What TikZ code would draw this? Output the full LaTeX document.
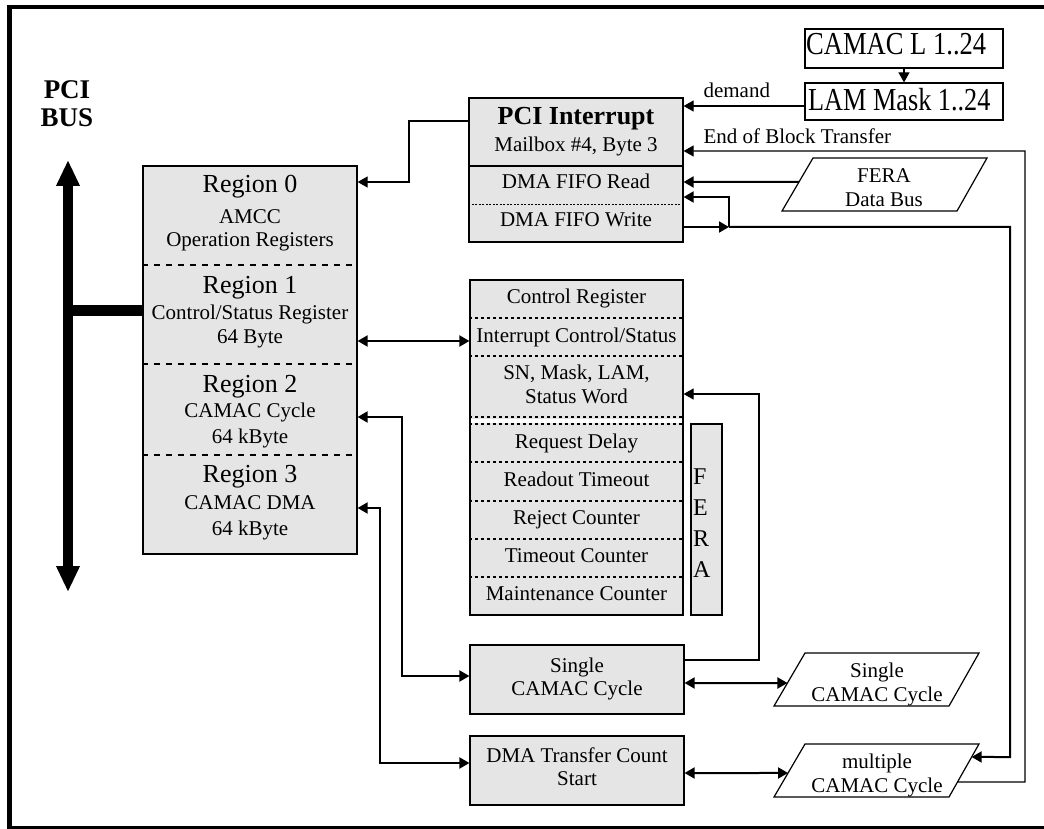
\documentclass[tikz,border=0pt]{standalone}
\usepackage{fontspec}
\setmainfont{Liberation Serif}
\usepackage{graphicx}
\usetikzlibrary{arrows.meta, calc}

\begin{document}
\begin{tikzpicture}[x=1pt, y=-1pt]
\tikzset{
  ah/.tip={Triangle[length=10pt,width=11pt]},
  busah/.tip={Triangle[length=26pt,width=22pt]},
  regbox/.style={draw, line width=1.2pt, fill=black!10, inner sep=0pt},
  plainbox/.style={draw, line width=1.2pt, fill=white, inner sep=0pt},
  big/.style={font=\fontsize{26}{30}\selectfont, anchor=base},
  small/.style={font=\fontsize{21}{24}\selectfont, anchor=base},
  dashsep/.style={line width=1.8pt, dash pattern=on 6pt off 6pt},
  dotsep/.style={line width=1.5pt, dash pattern=on 3pt off 3pt},
  fine/.style={line width=1.1pt},
  heavy/.style={line width=2pt},
}
\useasboundingbox (0,0) rectangle (1044,829);
\draw[line width=4.5pt] (9.5,7) rectangle (1070,828);

% PCI bus
\node[font=\bfseries\fontsize{27}{28}\selectfont, align=center, anchor=north, inner sep=0pt]
    (busname) at (67,80) {PCI\\BUS};
\draw[line width=10pt, busah-busah] (68,160) coordinate (bustop) -- (68,592) coordinate (busbot);

% address regions
\node[regbox, minimum width=214pt, minimum height=388pt] (regions) at (250,360) {};
\foreach \yy in {265,364,455}
  \draw[dashsep] (regions.west |- 0,\yy) -- (regions.east |- 0,\yy);
\draw[line width=11pt] (68,310) -- (regions.west |- 0,310);

\node[big] (r0) at (250,193) {Region 0};
\node[small] (r0a) at (250,224) {AMCC};
\node[small] (r0b) at (250,247) {Operation Registers};
\node[big] (r1) at (250,293) {Region 1};
\node[small] (r1a) at (250,319) {Control/Status Register};
\node[small] (r1b) at (250,343) {64 Byte};
\node[big] (r2) at (250,392) {Region 2};
\node[small] (r2a) at (250,417) {CAMAC Cycle};
\node[small] (r2b) at (250,443) {64 kByte};
\node[big] (r3) at (250,482) {Region 3};
\node[small] (r3a) at (250,509) {CAMAC DMA};
\node[small] (r3b) at (250,535) {64 kByte};

% interrupt and DMA FIFO
\node[regbox, minimum width=214pt, minimum height=144pt] (pciint) at (576,170) {};
\draw[line width=1.2pt] (pciint.west |- 0,166) -- (pciint.east |- 0,166);
\draw[line width=0.9pt, dash pattern=on 2pt off 1.5pt] (pciint.west |- 0,204) -- (pciint.east |- 0,204);
\node[font=\bfseries\fontsize{26}{30}\selectfont, anchor=base] (pcitxt) at (576,125) {PCI Interrupt};
\node[small] (mailbox) at (576,152) {Mailbox \#4, Byte 3};
\node[small] (fiford) at (576,189) {DMA FIFO Read};
\node[small] (fifowr) at (576,227) {DMA FIFO Write};

% LAM inputs
\node[plainbox, minimum width=198pt, minimum height=39pt] (camac) at (904,48.5) {};
\node[plainbox, minimum width=198pt, minimum height=37pt] (lam) at (904,101.5) {};
\node[font=\fontsize{32}{36}\selectfont, anchor=base west, inner sep=0pt]
    (camactxt) at (806,55) {\scalebox{0.83}[1]{CAMAC L 1..24}};
\node[font=\fontsize{32}{36}\selectfont, anchor=base west, inner sep=0pt]
    (lamtxt) at (808,111) {\scalebox{0.82}[1]{LAM Mask 1..24}};

% register file
\node[regbox, minimum width=213pt, minimum height=335pt] (ctrl) at (576.5,447.5) {};
\fill[white] (471,418.5) rectangle (682,422.5);
\foreach \yy in {318,356,417,424,462,501,539,577}
  \draw[dotsep] (ctrl.west |- 0,\yy) -- (ctrl.east |- 0,\yy);
\draw[line width=1.2pt] (ctrl.north west) rectangle (ctrl.south east);
\node[small] (ctrlreg) at (576.5,303) {Control Register};
\node[small] (intcs) at (576.5,342) {Interrupt Control/Status};
\node[small] (snmask) at (576.5,379) {SN, Mask, LAM,};
\node[small] (status) at (576.5,403) {Status Word};
\node[small] (reqdel) at (576.5,448) {Request Delay};
\node[small] (rdtime) at (576.5,486) {Readout Timeout};
\node[small] (rejcnt) at (576.5,524) {Reject Counter};
\node[small] (tmocnt) at (576.5,562) {Timeout Counter};
\node[small] (maint) at (576.5,600) {Maintenance Counter};

\node[regbox, minimum width=31pt, minimum height=191pt] (fera) at (706.5,519.5) {};
\foreach \l [count=\i] in {F,E,R,A}
  \node[font=\fontsize{24}{26}\selectfont, anchor=base west, inner sep=0pt]
      (fera\i) at (693,{453.5+31*\i}) {\l};

% CAMAC cycle units
\node[regbox, minimum width=214pt, minimum height=69pt] (single) at (577,679.5) {};
\node[small] (singa) at (577,672) {Single};
\node[small] (singb) at (577,695) {CAMAC Cycle};
\node[regbox, minimum width=214pt, minimum height=69pt] (dmacnt) at (577,770.5) {};
\node[small] (dmaa) at (577,762) {DMA Transfer Count};
\node[small] (dmab) at (577,785) {Start};

% external buses
\draw[plainbox] (813,158) coordinate (fd1) -- (987,158) coordinate (fd2)
    -- (957,211) coordinate (fd3) -- (782,211) coordinate (fd4) -- cycle;
\node[small] (fdtxta) at (884,183) {FERA};
\node[small] (fdtxtb) at (884,207) {Data Bus};
\draw[plainbox] (805,653) coordinate (sp1) -- (979,653) coordinate (sp2)
    -- (949,706) coordinate (sp3) -- (774,706) coordinate (sp4) -- cycle;
\node[small] (sptxta) at (877,677) {Single};
\node[small] (sptxtb) at (877,701) {CAMAC Cycle};
\draw[plainbox] (805,744) coordinate (mp1) -- (979,744) coordinate (mp2)
    -- (949,797) coordinate (mp3) -- (774,797) coordinate (mp4) -- cycle;
\node[small] (mptxta) at (877,768) {multiple};
\node[small] (mptxtb) at (877,792) {CAMAC Cycle};

% connections
\draw[fine, -ah] (pciint.west |- 0,121) -| (409,182) -- (regions.east |- 0,182);
\draw[heavy, ah-ah] (regions.east |- 0,341) -- (ctrl.west |- 0,341);
\draw[heavy, ah-ah] (regions.east |- 0,417) -| (402,676) -- (single.west |- 0,676);
\draw[heavy, ah-ah] (regions.east |- 0,508) -| (380,763) -- (dmacnt.west |- 0,763);
\draw[heavy, ah-ah] (single.east |- 0,683) -- ($(sp1)!0.566!(sp4)$);
\draw[heavy, ah-ah] (dmacnt.east |- 0,773) -- ($(mp1)!0.547!(mp4)$);
\draw[fine, -ah] (single.east |- 0,660) -| (759,394) -- (ctrl.east |- 0,394);

\draw[fine, -ah] (camac.south) -- (lam.north);
\draw[fine, -ah] (lam.west |- 0,106) -- (pciint.east |- 0,106);
\node[small, anchor=base west] (demand) at (700,98) {demand};
\draw[fine, -ah] ($(mp2)!0.717!(mp3)$) -- (1025,782) |- (pciint.east |- 0,151);
\node[small, anchor=base west] (eob) at (700,144) {End of Block Transfer};
\draw[heavy, -ah] ($(fd1)!0.45!(fd4)$) -- (pciint.east |- 0,182);
\draw[heavy, -ah] (pciint.east |- 0,227) -- (729,227) coordinate (split);
\draw[heavy, -ah] (split) -- (729,197) -- (pciint.east |- 0,197);
\draw[heavy, -ah] (split) -| (1010,757) -- ($(mp2)!0.245!(mp3)$);
\end{tikzpicture}
\end{document}
